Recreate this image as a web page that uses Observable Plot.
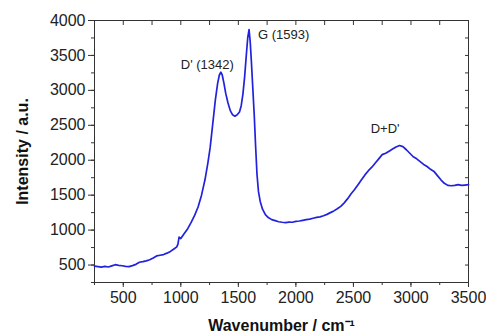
<!DOCTYPE html>
<html><head><meta charset="utf-8">
<script src="https://cdn.jsdelivr.net/npm/d3@7"></script>
<script src="https://cdn.jsdelivr.net/npm/@observablehq/plot@0.6"></script>
<style>body{margin:0;background:#fff}</style>
</head><body><div id="chart"></div>
<script>
const wavenumber = [250,280,310,340,370,400,430,460,490,520,550,580,610,640,670,700,730,760,790,820,850,880,910,940,965,975,985,1000,1030,1060,1090,1120,1150,1180,1210,1235,1255,1275,1300,1320,1335,1348,1360,1375,1390,1410,1430,1450,1470,1490,1510,1525,1540,1555,1570,1582,1593,1603,1613,1625,1638,1650,1662,1675,1690,1710,1735,1760,1790,1820,1850,1880,1910,1940,1970,2000,2030,2060,2090,2120,2150,2180,2210,2240,2270,2300,2330,2360,2390,2420,2450,2480,2510,2540,2570,2600,2630,2660,2690,2720,2750,2780,2810,2840,2870,2900,2930,2960,2990,3020,3050,3080,3110,3140,3170,3200,3230,3260,3290,3320,3350,3380,3410,3440,3470,3500];
const intensity = [485,478,470,480,472,488,505,495,490,480,478,492,510,540,548,560,575,600,630,640,650,670,695,730,760,800,900,880,950,1020,1110,1210,1330,1500,1720,1960,2180,2480,2860,3100,3220,3260,3220,3100,2960,2820,2710,2650,2630,2650,2690,2780,2950,3200,3520,3760,3870,3700,3420,3050,2650,2200,1800,1550,1410,1300,1220,1180,1150,1135,1120,1112,1108,1115,1112,1125,1130,1140,1150,1158,1170,1182,1190,1205,1225,1250,1275,1305,1340,1390,1450,1520,1580,1650,1720,1790,1850,1900,1960,2020,2080,2100,2130,2160,2190,2210,2195,2150,2100,2050,2020,1980,1940,1910,1870,1840,1780,1720,1670,1640,1635,1640,1650,1640,1645,1650];
const xMajorTicks = [500,1000,1500,2000,2500,3000,3500];
const xMinorTicks = [250,500,750,1000,1250,1500,1750,2000,2250,2500,2750,3000,3250,3500];
const yMajorTicks = [500,1000,1500,2000,2500,3000,3500,4000];
const yMinorTicks = [250,500,750,1000,1250,1500,1750,2000,2250,2500,2750,3000,3250,3500,3750,4000];
const peakLabels = ["D' (1342)", "G (1593)", "D+D'"];
const peakLabelX = [1230, 1670, 2775];
const peakLabelY = [3360, 3790, 2450];
const peakLabelAnchor = ["middle", "start", "middle"];

const spectrum = wavenumber.map((x, i) => ({x, y: intensity[i]}));
const labels = peakLabels.map((t, i) => ({t, x: peakLabelX[i], y: peakLabelY[i], a: peakLabelAnchor[i]}));

const axisColor = "#333";
const noText = () => "";
const plainNum = d3.format("d");
const plot = Plot.plot({
  width: 486, height: 333,
  marginLeft: 94, marginRight: 18, marginTop: 20, marginBottom: 51,
  style: {fontFamily: "Arial, 'Liberation Sans', sans-serif", fontSize: "16px", color: "#222", background: "#fff"},
  x: {domain: [250, 3500]},
  y: {domain: [250, 4000]},
  marks: [
    Plot.axisX(xMinorTicks, {anchor: "bottom", tickSize: 3, tickFormat: noText, label: null, stroke: axisColor}),
    Plot.axisX(xMinorTicks, {anchor: "top", tickSize: 4, dy: 4, tickFormat: noText, label: null, stroke: axisColor}),
    Plot.axisX(xMajorTicks, {anchor: "bottom", tickSize: 5, tickPadding: 4, tickFormat: plainNum, stroke: axisColor,
      label: "Wavenumber / cm⁻¹", labelAnchor: "center", labelArrow: "none", labelOffset: 48}),
    Plot.axisY(yMinorTicks, {anchor: "left", tickSize: 3, tickFormat: noText, label: null, stroke: axisColor}),
    Plot.axisY(yMinorTicks, {anchor: "right", tickSize: 4, dx: -4, tickFormat: noText, label: null, stroke: axisColor}),
    Plot.axisY(yMajorTicks, {anchor: "left", tickSize: 6, tickPadding: 3, tickFormat: plainNum, stroke: axisColor,
      label: "Intensity / a.u.", labelAnchor: "center", labelArrow: "none", labelOffset: 78}),
    Plot.frame({stroke: axisColor}),
    Plot.line(spectrum, {x: "x", y: "y", stroke: "#2222dd", strokeWidth: 1.7}),
    Plot.text(labels.filter(d => d.a === "middle"), {x: "x", y: "y", text: "t", textAnchor: "middle", fontSize: 13, fill: "#222"}),
    Plot.text(labels.filter(d => d.a === "start"), {x: "x", y: "y", text: "t", textAnchor: "start", fontSize: 13, fill: "#222"})
  ]
});
plot.querySelectorAll('g[aria-label="x-axis label"] text, g[aria-label="y-axis label"] text').forEach(t => {
  t.style.fontSize = "16px"; t.style.fontWeight = "bold"; t.setAttribute("fill", "#111");
});
document.getElementById("chart").append(plot);
</script>
</body></html>
